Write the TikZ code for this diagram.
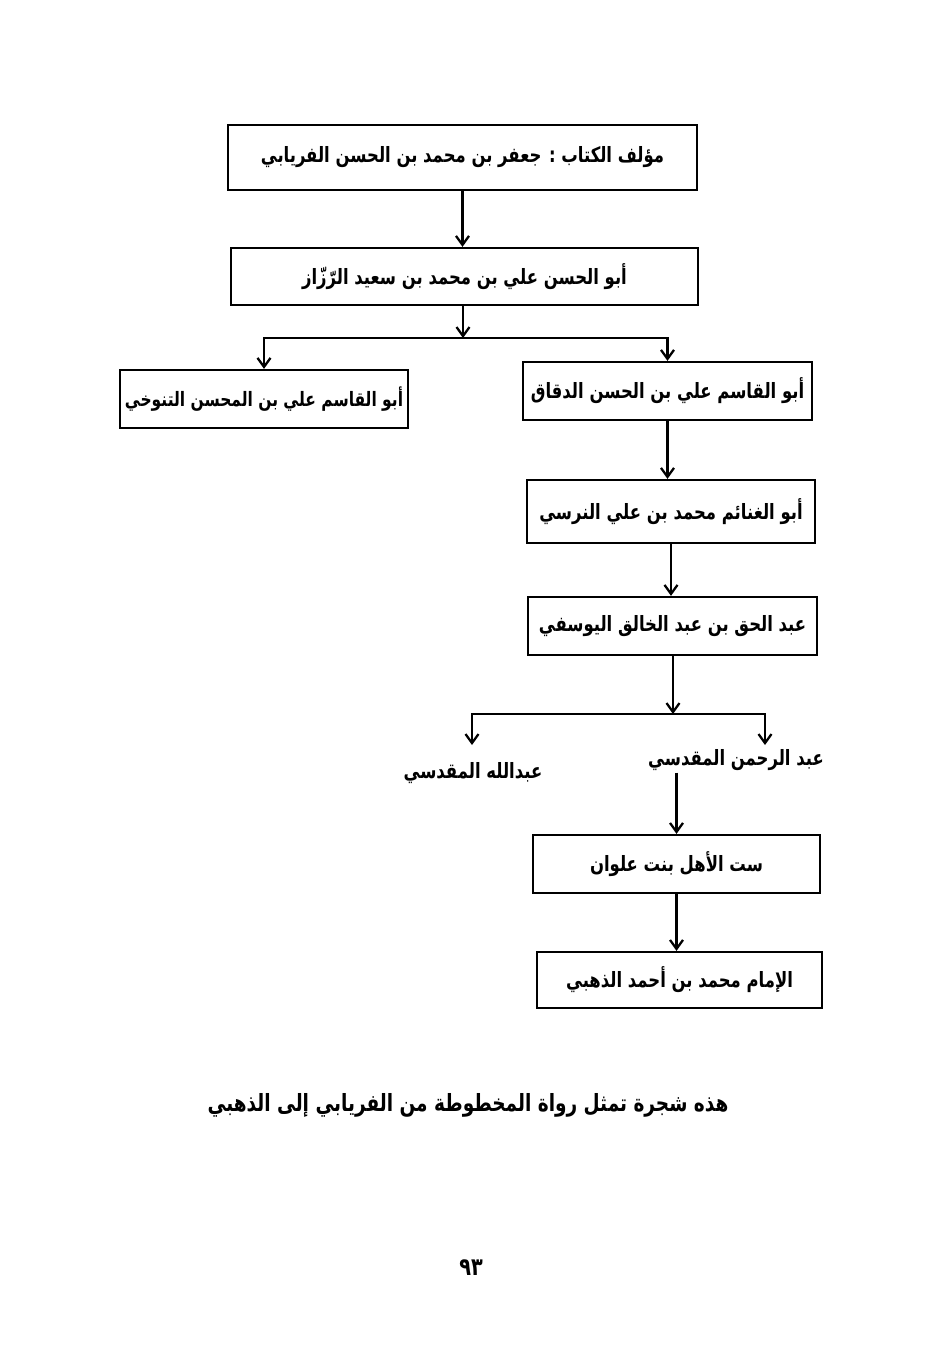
\documentclass[tikz,border=0pt]{standalone}
\usepackage{fontspec}
\usetikzlibrary{positioning,calc,arrows.meta}
\TeXXeTstate=1
\newfontfamily\arabicfont[Script=Arabic,FakeStretch=0.78]{DejaVu Sans}

\begin{document}
\begin{tikzpicture}[x=0.02cm, y=-0.02cm,
    >={Straight Barb[length=1.8mm,width=2.6mm]},
    narrator/.style={draw, line width=1.3pt, inner sep=0pt,
      font=\arabicfont\bfseries\fontsize{12}{14}\selectfont},
    leaf/.style={inner sep=1pt, font=\arabicfont\bfseries\fontsize{12}{14}\selectfont},
    link/.style={line width=1.3pt, ->}]
    \useasboundingbox (0,0) rectangle (934,1368);
    \node[narrator, minimum width=9.38cm, minimum height=1.3cm] (author) at (462.5,157.5)
      {\beginR مؤلف الكتاب : جعفر بن محمد بن الحسن الفريابي\endR};
    \node[narrator, minimum width=9.34cm, minimum height=1.14cm] (razzaz) at (464.5,276.5)
      {\beginR أبو الحسن علي بن محمد بن سعيد الرّزّاز\endR};
    \node[narrator, minimum width=5.76cm, minimum height=1.16cm, font=\arabicfont\bfseries\fontsize{11.3}{14}\selectfont] (tanukhi) at (264,399)
      {\beginR أبو القاسم علي بن المحسن التنوخي\endR};
    \node[narrator, minimum width=5.78cm, minimum height=1.16cm] (daqqaq) at (667.5,391)
      {\beginR أبو القاسم علي بن الحسن الدقاق\endR};
    \node[narrator, minimum width=5.76cm, minimum height=1.26cm] (nursi) at (671,511.5)
      {\beginR أبو الغنائم محمد بن علي النرسي\endR};
    \node[narrator, minimum width=5.78cm, minimum height=1.16cm] (yusufi) at (672.5,626)
      {\beginR عبد الحق بن عبد الخالق اليوسفي\endR};
    \node[leaf] (abdallah) at (473,773) {\beginR عبدالله المقدسي\endR};
    \node[leaf] (abdrahman) at (736,760) {\beginR عبد الرحمن المقدسي\endR};
    \node[narrator, minimum width=5.74cm, minimum height=1.16cm] (sitt) at (676.5,864)
      {\beginR ست الأهل بنت علوان\endR};
    \node[narrator, minimum width=5.70cm, minimum height=1.12cm] (dhahabi) at (679.5,980)
      {\beginR الإمام محمد بن أحمد الذهبي\endR};

    \coordinate (fork1) at (463,338);
    \coordinate (fork2) at (673,714);
    \coordinate (tipL) at (472,745);
    \coordinate (tipR) at (765,745);

    \draw[link] (author.south) -- (author.south |- razzaz.north);
    \draw[link] (razzaz.south -| fork1) -- (fork1);
    \draw[link] (fork1) -| (tanukhi.north);
    \draw[link] (fork1) -| (daqqaq.north);
    \draw[link] (daqqaq.south) -- (daqqaq.south |- nursi.north);
    \draw[link] (nursi.south) -- (nursi.south |- yusufi.north);
    \draw[link] (yusufi.south -| fork2) -- (fork2);
    \draw[link] (fork2) -| (tipL);
    \draw[link] (fork2) -| (tipR);
    \draw[link] (abdrahman.south -| sitt.north) -- (sitt.north);
    \draw[link] (sitt.south) -- (sitt.south |- dhahabi.north);

    \node[font=\arabicfont\bfseries\fontsize{13.5}{16}\selectfont] (caption) at (468,1105)
      {\beginR هذه شجرة تمثل رواة المخطوطة من الفريابي إلى الذهبي\endR};
    \node[font=\arabicfont\bfseries\fontsize{14}{16}\selectfont] (pagenum) at (471,1268) {٩٣};
\end{tikzpicture}
\end{document}
